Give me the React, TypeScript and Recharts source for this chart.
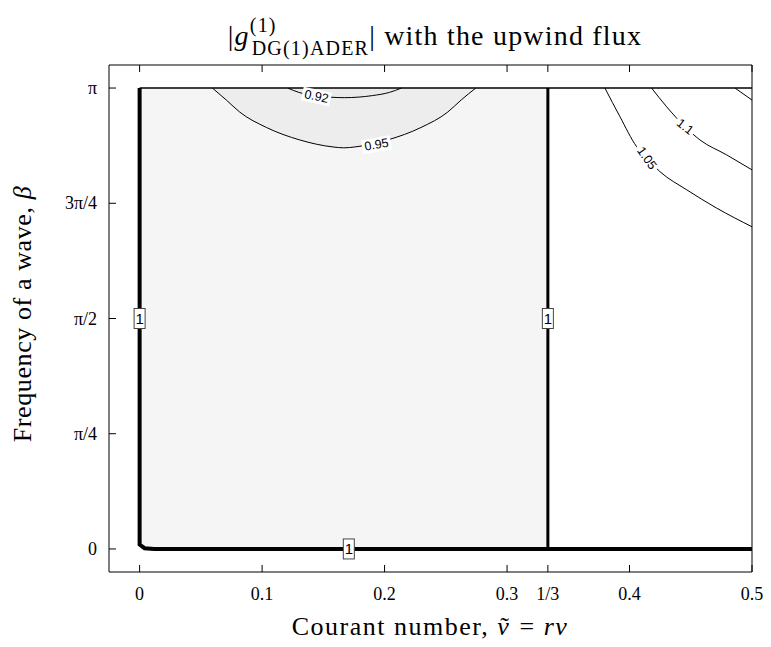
import React from "react";
import {
  ComposedChart,
  Line,
  Area,
  XAxis,
  YAxis,
  ReferenceArea,
  ReferenceDot,
  ReferenceLine,
} from "recharts";

const PI = Math.PI;
const SERIF = "'Liberation Serif', 'Times New Roman', serif";
const SANS = "'Liberation Sans', Arial, sans-serif";

const X_DOMAIN: [number, number] = [-0.025, 0.5];
const Y_DOMAIN: [number, number] = [-0.05 * PI, 1.05 * PI];
// inward tick length, in axis units (about 7px)
const X_TICK_LEN = 0.0057;
const Y_TICK_LEN = 0.048;

// axis ticks
const xTicks = [0, 0.1, 0.2, 0.3, 1 / 3, 0.4, 0.5];
const xTickLabels = ["0", "0.1", "0.2", "0.3", "1/3", "0.4", "0.5"];
const yTicks = [0, PI / 4, PI / 2, (3 * PI) / 4, PI];
const yTickLabels = ["0", "π/4", "π/2", "3π/4", "π"];

// |g| = 1 : along nu = 0, beta = 0 and the CFL limit nu = 1/3
const level1Edge = [
  { x: 0, y: PI },
  { x: 0, y: 0.03 },
  { x: 0.004, y: 0.005 },
  { x: 0.012, y: 0 },
  { x: 0.5, y: 0 },
];
const level1Cfl = [
  { x: 1 / 3, y: 0 },
  { x: 1 / 3, y: PI },
];
const topEdge = [
  { x: 0, y: PI },
  { x: 0.5, y: PI },
];

// damping contours (nu < 1/3)
const level095 = [
  { x: 0.0594, y: PI },
  { x: 0.0708, y: 3.06 },
  { x: 0.0817, y: 2.978 },
  { x: 0.1035, y: 2.873 },
  { x: 0.1307, y: 2.788 },
  { x: 0.1579, y: 2.74 },
  { x: 0.1667, y: 2.734 },
  { x: 0.1757, y: 2.74 },
  { x: 0.2026, y: 2.788 },
  { x: 0.2298, y: 2.873 },
  { x: 0.2516, y: 2.978 },
  { x: 0.2625, y: 3.06 },
  { x: 0.2745, y: PI },
];
const level092 = [
  { x: 0.1209, y: PI },
  { x: 0.13, y: 3.112 },
  { x: 0.144, y: 3.09 },
  { x: 0.167, y: 3.076 },
  { x: 0.19, y: 3.09 },
  { x: 0.204, y: 3.112 },
  { x: 0.2138, y: PI },
];

// growth contours (nu > 1/3)
const level105 = [
  { x: 0.3799, y: PI },
  { x: 0.3922, y: 2.946 },
  { x: 0.4058, y: 2.742 },
  { x: 0.414, y: 2.663 },
  { x: 0.4248, y: 2.572 },
  { x: 0.4467, y: 2.448 },
  { x: 0.4712, y: 2.323 },
  { x: 0.5, y: 2.196 },
];
const level110 = [
  { x: 0.418, y: PI },
  { x: 0.4303, y: 3.014 },
  { x: 0.4453, y: 2.878 },
  { x: 0.4575, y: 2.788 },
  { x: 0.4793, y: 2.686 },
  { x: 0.5, y: 2.584 },
];
const level115 = [
  { x: 0.4861, y: PI },
  { x: 0.5, y: 3.06 },
];

// inline contour labels: [text, x, y, angle]
const contourTags: [string, number, number, number][] = [
  ["0.92", 0.1444, 3.084, 12],
  ["0.95", 0.1934, 2.755, -10],
  ["1.05", 0.414, 2.663, 55],
  ["1.1", 0.4453, 2.878, 38],
];
const unitTags: [number, number][] = [
  [0, PI / 2],
  [1 / 3, PI / 2],
  [0.1708, 0],
];

const band095 = level095.map((p) => ({ x: p.x, band: [p.y, PI] }));
const band092 = level092.map((p) => ({ x: p.x, band: [p.y, PI] }));

function XTickLabel(props: any) {
  const { x, y, payload } = props;
  return (
    <text
      x={x}
      y={y + 28}
      textAnchor="middle"
      fontSize={18}
      fontFamily={SERIF}
      fill="#000"
    >
      {xTickLabels[xTicks.indexOf(payload.value)]}
    </text>
  );
}

function YTickLabel(props: any) {
  const { x, y, payload } = props;
  return (
    <text
      x={x - 12}
      y={y + 6}
      textAnchor="end"
      fontSize={18}
      fontFamily={SERIF}
      fill="#000"
    >
      {yTickLabels[yTicks.indexOf(payload.value)]}
    </text>
  );
}

function ContourTag(props: any) {
  const { cx, cy, text, angle } = props;
  const w = text.length * 7 + 1;
  return (
    <g transform={`translate(${cx},${cy}) rotate(${angle})`}>
      <rect x={-w / 2} y={-7} width={w} height={14} fill="#fff" />
      <text
        textAnchor="middle"
        dominantBaseline="central"
        fontSize={12.5}
        fontFamily={SANS}
        fill="#000"
      >
        {text}
      </text>
    </g>
  );
}

function UnitTag(props: any) {
  const { cx, cy } = props;
  return (
    <g>
      <rect
        x={cx - 5.5}
        y={cy - 10}
        width={11}
        height={20}
        fill="#fff"
        stroke="#444"
        strokeWidth={1}
      />
      <text
        x={cx}
        y={cy + 5.5}
        textAnchor="middle"
        fontSize={15}
        fontFamily={SANS}
        fill="#000"
      >
        1
      </text>
    </g>
  );
}

const contour = (data: any[], key: string) => (
  <Line
    key={key}
    data={data}
    dataKey="y"
    type="monotone"
    stroke="#000"
    strokeWidth={1}
    dot={false}
    activeDot={false}
    isAnimationActive={false}
  />
);

const tickMark = (key: string, segment: { x: number; y: number }[]) => (
  <ReferenceLine
    key={key}
    segment={segment}
    stroke="#000"
    strokeWidth={1}
    ifOverflow="visible"
  />
);

export default function App() {
  return (
    <div style={{ position: "absolute", left: 0, top: 0 }}>
      <ComposedChart
        width={771}
        height={647}
        margin={{ top: 64, right: 18, bottom: 35, left: 49 }}
      >
        <XAxis
          type="number"
          dataKey="x"
          domain={X_DOMAIN}
          ticks={xTicks}
          interval={0}
          allowDataOverflow
          height={40}
          tickSize={0}
          tickMargin={0}
          tickLine={false}
          axisLine={{ stroke: "#000" }}
          tick={<XTickLabel />}
        />
        <XAxis
          xAxisId="top"
          orientation="top"
          type="number"
          dataKey="x"
          domain={X_DOMAIN}
          allowDataOverflow
          height={1}
          tick={false}
          tickLine={false}
          axisLine={{ stroke: "#000" }}
        />
        <YAxis
          type="number"
          domain={Y_DOMAIN}
          ticks={yTicks}
          interval={0}
          allowDataOverflow
          width={60}
          tickSize={0}
          tickMargin={0}
          tickLine={false}
          axisLine={{ stroke: "#000" }}
          tick={<YTickLabel />}
        />
        <YAxis
          yAxisId="right"
          orientation="right"
          type="number"
          domain={Y_DOMAIN}
          width={1}
          tick={false}
          tickLine={false}
          axisLine={{ stroke: "#000" }}
        />

        {/* damped region, 0 < nu < 1/3 */}
        <ReferenceArea
          x1={0}
          x2={1 / 3}
          y1={0}
          y2={PI}
          fill="#f5f5f5"
          fillOpacity={1}
          stroke="none"
        />
        <Area
          data={band095}
          dataKey="band"
          type="monotone"
          fill="#ededed"
          fillOpacity={1}
          stroke="none"
          isAnimationActive={false}
        />
        <Area
          data={band092}
          dataKey="band"
          type="monotone"
          fill="#eaeaea"
          fillOpacity={1}
          stroke="none"
          isAnimationActive={false}
        />

        {/* inward ticks on bottom, top and left edges of the box */}
        {xTicks.map((t, i) =>
          tickMark("xb" + i, [
            { x: t, y: Y_DOMAIN[0] },
            { x: t, y: Y_DOMAIN[0] + Y_TICK_LEN },
          ])
        )}
        {xTicks.map((t, i) =>
          tickMark("xt" + i, [
            { x: t, y: Y_DOMAIN[1] },
            { x: t, y: Y_DOMAIN[1] - Y_TICK_LEN },
          ])
        )}
        {yTicks.map((t, i) =>
          tickMark("yl" + i, [
            { x: X_DOMAIN[0], y: t },
            { x: X_DOMAIN[0] + X_TICK_LEN, y: t },
          ])
        )}

        {contour(level095, "c095")}
        {contour(level092, "c092")}
        {contour(level105, "c105")}
        {contour(level110, "c110")}
        {contour(level115, "c115")}
        <Line
          data={topEdge}
          dataKey="y"
          type="linear"
          stroke="#000"
          strokeWidth={1.5}
          dot={false}
          activeDot={false}
          isAnimationActive={false}
        />
        <Line
          data={level1Edge}
          dataKey="y"
          type="linear"
          stroke="#000"
          strokeWidth={4}
          dot={false}
          activeDot={false}
          isAnimationActive={false}
        />
        <Line
          data={level1Cfl}
          dataKey="y"
          type="linear"
          stroke="#000"
          strokeWidth={3}
          dot={false}
          activeDot={false}
          isAnimationActive={false}
        />

        {contourTags.map(([text, x, y, angle]) => (
          <ReferenceDot
            key={text}
            x={x}
            y={y}
            r={0}
            shape={(p: any) => <ContourTag {...p} text={text} angle={angle} />}
          />
        ))}
        {unitTags.map(([x, y], i) => (
          <ReferenceDot
            key={"u" + i}
            x={x}
            y={y}
            r={0}
            shape={(p: any) => <UnitTag {...p} />}
          />
        ))}

        <text
          x={435}
          y={45}
          textAnchor="middle"
          fontFamily={SERIF}
          fontSize={28}
          letterSpacing={1.2}
          fill="#000"
        >
          |<tspan fontStyle="italic">g</tspan>
          <tspan fontSize={20} dy={-13}>(1)</tspan>
          <tspan fontSize={20} dx={-25} dy={23}>DG(1)ADER</tspan>
          <tspan dy={-10}>|</tspan>
          {" with the upwind flux"}
        </text>
        <text
          x={430}
          y={635}
          textAnchor="middle"
          fontFamily={SERIF}
          fontSize={26}
          letterSpacing={1.5}
          fill="#000"
        >
          {"Courant number, "}
          <tspan fontStyle="italic">ν</tspan>
          <tspan dx={-10}>˜</tspan>
          <tspan dx={1}>{" = "}</tspan>
          <tspan fontStyle="italic">rν</tspan>
        </text>
        <text
          transform="translate(31,314) rotate(-90)"
          textAnchor="middle"
          fontFamily={SERIF}
          fontSize={26}
          letterSpacing={0.6}
          fill="#000"
        >
          {"Frequency of a wave, "}
          <tspan fontStyle="italic">β</tspan>
        </text>
      </ComposedChart>
    </div>
  );
}
